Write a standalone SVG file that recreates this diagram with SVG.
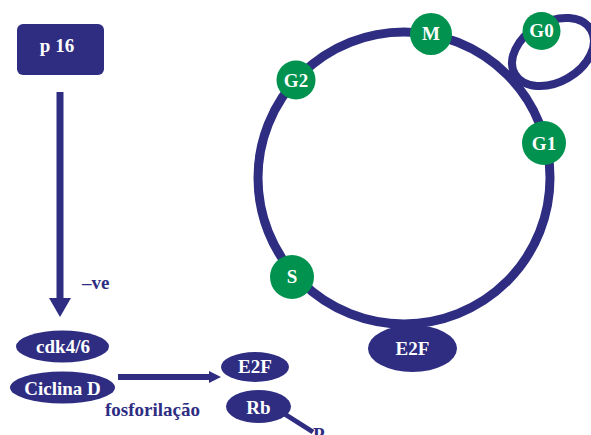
<svg xmlns="http://www.w3.org/2000/svg" width="591" height="435" viewBox="0 0 591 435">
<style>
.navy{fill:#2e2d82}
.green{fill:#00924e}
.ring{fill:none;stroke:#2e2d82;stroke-width:9}
.loop{fill:none;stroke:#2e2d82;stroke-width:8}
.lbl{font-family:"Liberation Serif","Times New Roman",serif;font-weight:bold;font-size:19px;fill:#ffffff;text-anchor:middle}
.dark{font-family:"Liberation Serif","Times New Roman",serif;font-weight:bold;font-size:19px;fill:#2e2d82}
.conn{stroke:#2e2d82;fill:none}
</style>
<rect width="591" height="435" fill="#ffffff"/>
<g id="cycle">
<circle class="ring" cx="404" cy="178" r="146"/>
<ellipse class="loop" cx="553" cy="52" rx="44" ry="30" transform="rotate(-30 553 52)"/>
</g>
<g id="connectors">
<line class="conn" x1="60" y1="92" x2="60" y2="300" stroke-width="7"/>
<polygon class="navy" points="49,298 71,298 60,317"/>
<line class="conn" x1="118" y1="377" x2="210" y2="377" stroke-width="6"/>
<polygon class="navy" points="209,371 221,377 209,383"/>
<line class="conn" x1="283" y1="413" x2="313" y2="432" stroke-width="5"/>
</g>
<g id="p16">
<rect class="navy" x="17" y="24" width="87" height="51" rx="6"/>
<text class="lbl" x="57" y="52">p 16</text>
</g>
<g id="M"><circle class="green" cx="431" cy="34" r="21"/><text class="lbl" x="431" y="40">M</text></g>
<g id="G2"><circle class="green" cx="296" cy="80" r="19.5"/><text class="lbl" x="296" y="87">G2</text></g>
<g id="G1"><circle class="green" cx="544" cy="143" r="22"/><text class="lbl" x="544" y="150">G1</text></g>
<g id="G0"><circle class="green" cx="541.5" cy="31" r="19"/><text class="lbl" x="541.5" y="37">G0</text></g>
<g id="S"><circle class="green" cx="292" cy="277" r="22"/><text class="lbl" x="292" y="283">S</text></g>
<g id="E2F-cycle"><ellipse class="navy" cx="412.5" cy="348.5" rx="44.5" ry="23.5"/><text class="lbl" x="412.5" y="355">E2F</text></g>
<g id="ve"><text class="dark" x="82" y="289" font-size="17">–ve</text></g>
<g id="cdk"><ellipse class="navy" cx="62.5" cy="346.5" rx="46.5" ry="16"/><text class="lbl" x="63" y="353">cdk4/6</text></g>
<g id="ciclina"><ellipse class="navy" cx="62.5" cy="387.5" rx="52.5" ry="16"/><text class="lbl" x="62.5" y="395">Ciclina D</text></g>
<g id="fosforilacao"><text class="dark" x="105" y="416">fosforilação</text></g>
<g id="E2F"><ellipse class="navy" cx="255" cy="367" rx="34" ry="15"/><text class="lbl" x="255" y="373">E2F</text></g>
<g id="Rb"><ellipse class="navy" cx="258.5" cy="406.5" rx="32.5" ry="16.5"/><text class="lbl" x="258.5" y="414">Rb</text></g>
<g id="P"><text class="dark" x="313" y="441" font-size="18">P</text></g>
</svg>
